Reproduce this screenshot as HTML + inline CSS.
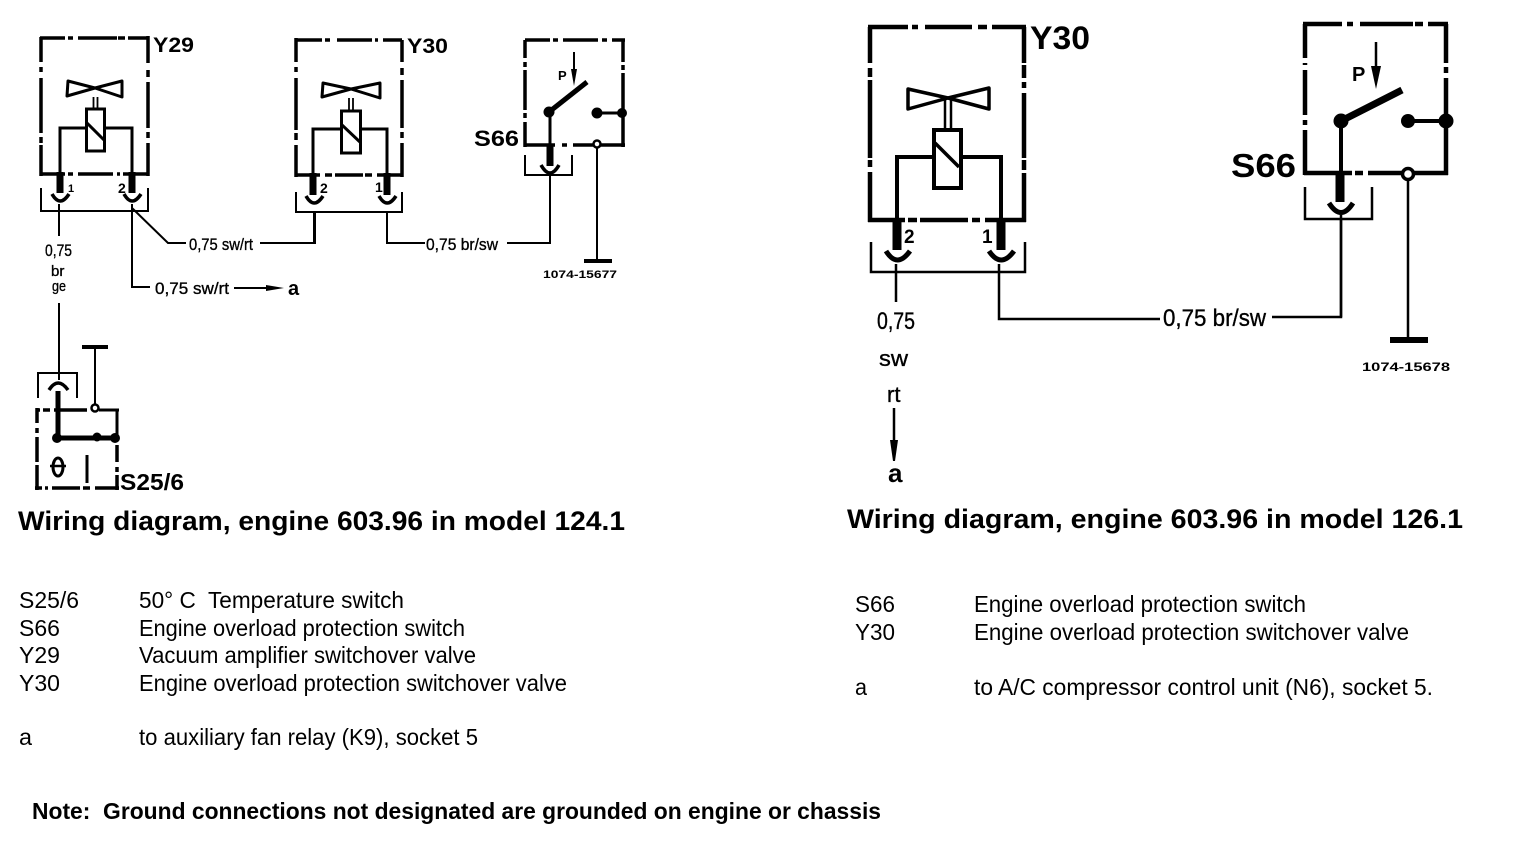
<!DOCTYPE html>
<html><head><meta charset="utf-8"><style>
html,body{margin:0;padding:0;background:#fff;width:1520px;height:848px;overflow:hidden}
svg{display:block}
text{font-family:"Liberation Sans",sans-serif;fill:#000;white-space:pre}
.b{font-weight:bold}
.m{stroke:#000;stroke-width:.35}
.f{fill:none;stroke:#000;stroke-linecap:butt;stroke-linejoin:miter}
</style></head><body>
<svg width="1520" height="848" viewBox="0 0 1520 848" xmlns="http://www.w3.org/2000/svg">
<!-- Y29 -->
<g class="f" stroke-width="3.5">
<path d="M40 38H65M68 38H73M78 38H117M118 38H125M128 38H148M148 36V63M148 70V77M148 82V128M148 132V138M148 143V176M40 174H65M68 174H73M78 174H113M117 174H120M123 174H148M41 37V62M41 67V72M41 78V133M41 137V143M41 145V176"/>
<path d="M60 174V128H87M105 128H132V174" stroke-width="3"/>
<rect x="86.5" y="109" width="18" height="42" stroke-width="3"/>
<path d="M87 123L104 140" stroke-width="3"/>
<path d="M95 88L68 81 67 96ZM95 88L122 81 122 97Z" stroke-width="3" stroke-linejoin="round"/>
<path d="M93.5 97V109M97.5 97V109" stroke-width="1.8"/>
<path d="M60 172V193M132 172V193" stroke-width="7"/>
<path d="M52 194Q60 208 69 194M124 194Q132 208 141 194" stroke-width="3.5"/>
<path d="M41 188V211H148V188" stroke-width="2"/>
<path d="M59 204V236M59 303V380M132 204V287H150M132 208L168 243H186M260 243H315V211" stroke-width="2"/>
</g>
<text class="b" x="153" y="52" font-size="21" textLength="41" lengthAdjust="spacingAndGlyphs">Y29</text>
<text class="m" x="45" y="256" font-size="17" textLength="27" lengthAdjust="spacingAndGlyphs">0,75</text>
<text class="m" x="51" y="276" font-size="15">br</text>
<text class="m" x="52" y="291" font-size="15" textLength="14" lengthAdjust="spacingAndGlyphs">ge</text>
<text class="b" x="68" y="192" font-size="11">1</text>
<text class="b" x="118" y="193" font-size="14">2</text>
<text class="m" x="189" y="250" font-size="17" textLength="64" lengthAdjust="spacingAndGlyphs">0,75 sw/rt</text>
<text class="m" x="155" y="294" font-size="17" textLength="74" lengthAdjust="spacingAndGlyphs">0,75 sw/rt</text>
<path class="f" stroke-width="2" d="M234 288H272"/>
<path d="M266 285L284 288 266 291Z"/>
<text class="b" x="288" y="295" font-size="20">a</text>
<!-- Y30 small -->
<g class="f" stroke-width="3.5">
<path d="M296 40H322M325 40H330M337 40H372M375 40H378M383 40H402M402 40V62M402 68V75M402 80V128M402 132V138M402 143V177M296 175H320M325 175H332M335 175H363M365 175H372M377 175H402M296 38V62M296 67V72M296 78V130M296 133V140M296 145V177"/>
<path d="M313 175V129H340M362 129H387V175" stroke-width="3"/>
<rect x="341.5" y="111" width="19" height="42" stroke-width="3"/>
<path d="M342 125L361 143" stroke-width="3"/>
<path d="M351 89L323 83 322 97ZM351 89L380 83 380 98Z" stroke-width="3" stroke-linejoin="round"/>
<path d="M349 98V111M353 98V111" stroke-width="1.8"/>
<path d="M313 173V195M387 173V195" stroke-width="7"/>
<path d="M306 196Q314 210 323 196M379 196Q387 210 396 196" stroke-width="3.5"/>
<path d="M296 192V212H402V192" stroke-width="2"/>
<path d="M314 212V243H260M387 212V243H425M507 243H550V175" stroke-width="2"/>
</g>
<text class="b" x="407" y="53" font-size="21" textLength="41" lengthAdjust="spacingAndGlyphs">Y30</text>
<text class="b" x="320" y="193" font-size="14">2</text>
<text class="b" x="375" y="192" font-size="14">1</text>
<text class="m" x="426" y="250" font-size="17" textLength="72" lengthAdjust="spacingAndGlyphs">0,75 br/sw</text>
<!-- S66 small -->
<g class="f" stroke-width="3.5">
<path d="M525 40H550M553 40H558M563 40H598M602 40H607M612 40H625M623 40V62M623 65V70M623 73V147M525 145H555M562 145H567M573 145H625M525 40V58M525 62V67M525 70V110M525 113V118M525 122V147"/>
<path d="M549 112L587 82" stroke-width="5"/>
<path d="M550 112V145" stroke-width="3"/>
<path d="M597 113H622" stroke-width="3"/>
<path d="M550 145V166" stroke-width="7"/>
<path d="M541 165Q550 181 559 165" stroke-width="3.5"/>
<path d="M525 155V175H572V155" stroke-width="2"/>
<path d="M597 148V262" stroke-width="2"/>
<path d="M584 261H612" stroke-width="4"/>
<path d="M574 52V80" stroke-width="2"/>
</g>
<path d="M571 69L577 69 574 86Z"/>
<circle cx="549" cy="112" r="5.5"/><circle cx="597" cy="113" r="5.5"/><circle cx="622" cy="113" r="5"/>
<circle cx="597" cy="144" r="3.5" fill="#fff" stroke="#000" stroke-width="2.5"/>
<text class="b" x="558" y="80" font-size="13">P</text>
<text class="b" x="474" y="146" font-size="22" textLength="45" lengthAdjust="spacingAndGlyphs">S66</text>
<text class="b" x="543" y="278" font-size="11" textLength="74" lengthAdjust="spacingAndGlyphs">1074-15677</text>
<!-- S25/6 -->
<g class="f" stroke-width="3.5">
<path d="M38 398V373H77V398" stroke-width="2"/>
<path d="M49 390Q58 376 68 390" stroke-width="3.5"/>
<path d="M58 391V438" stroke-width="5"/>
<path d="M37 410H40M43 410H50M54 410H87M37 408V423M37 428V433M37 437V462M37 465V490M35 488H42M45 488H48M52 488H80M83 488H90M95 488H119M117 445V462M117 467V472M117 475V490"/>
<path d="M99 410H119M117 410V438" stroke-width="3"/>
<path d="M57 438H115" stroke-width="5"/>
<path d="M95 404V348" stroke-width="2"/>
<path d="M82 347H108" stroke-width="4"/>
<path d="M87 455V483" stroke-width="3"/>
<ellipse cx="58" cy="467" rx="5" ry="9" stroke-width="3"/>
<path d="M50 466H66" stroke-width="2.5"/>
</g>
<circle cx="57" cy="438" r="5"/><circle cx="97" cy="437" r="4.5"/><circle cx="115" cy="438" r="5"/>
<circle cx="95" cy="408" r="3.5" fill="#fff" stroke="#000" stroke-width="2.5"/>
<text class="b" x="120" y="490" font-size="23" textLength="64" lengthAdjust="spacingAndGlyphs">S25/6</text>
<!-- Y30 large -->
<g class="f" stroke-width="4.5">
<path d="M868 27H908M912 27H918M925 27H972M978 27H987M992 27H1026M1024 27V63M1024 65V78M1024 82V88M1024 93V158M1024 160V170M1024 173V222M868 220H905M908 220H917M920 220H968M972 220H980M985 220H1026M870 27V63M870 68V77M870 80V158M870 160V167M870 172V222"/>
<path d="M897 220V157H934M961 157H1001V220" stroke-width="4"/>
<rect x="934" y="130" width="27" height="58" stroke-width="4"/>
<path d="M935 143L959 167" stroke-width="3.5"/>
<path d="M948 98L908 89 908 109ZM948 98L989 88 989 109Z" stroke-width="3.5" stroke-linejoin="round"/>
<path d="M945 98V130M951 98V130" stroke-width="2.5"/>
<path d="M897 220V250M1001 220V250" stroke-width="9"/>
<path d="M886 251Q897 269 910 251M989 251Q1001 269 1014 251" stroke-width="5"/>
<path d="M871 242V272H1025V242" stroke-width="2.5"/>
<path d="M896 264V302M999 264V319H1160M1272 317H1341V219" stroke-width="2.5"/>
</g>
<text class="b" x="1030" y="49" font-size="32" textLength="60" lengthAdjust="spacingAndGlyphs">Y30</text>
<text class="b" x="904" y="243" font-size="19">2</text>
<text class="b" x="982" y="243" font-size="19">1</text>
<text class="m" x="877" y="329" font-size="24" textLength="38" lengthAdjust="spacingAndGlyphs">0,75</text>
<text class="m" x="1163" y="326" font-size="24" textLength="103" lengthAdjust="spacingAndGlyphs">0,75 br/sw</text>
<text class="m" x="879" y="366" font-size="22" textLength="29" lengthAdjust="spacingAndGlyphs">sw</text>
<text class="m" x="887" y="402" font-size="22">rt</text>
<path class="f" stroke-width="2.5" d="M894 408V445"/>
<path d="M890 440L898 440 895 461 893 461Z"/>
<text class="b" x="888" y="482" font-size="26">a</text>
<!-- S66 large -->
<g class="f" stroke-width="4.5">
<path d="M1303 24H1342M1347 24H1353M1360 24H1413M1415 24H1423M1428 24H1448M1446 24V63M1446 67V73M1446 78V175M1304 173H1352M1355 173H1363M1368 173H1448M1305 24V58M1305 63V65M1305 70V115M1305 120V125M1305 130V175"/>
<path d="M1341 121L1402 90" stroke-width="7"/>
<path d="M1341 121V173" stroke-width="4"/>
<path d="M1408 121H1446" stroke-width="4"/>
<path d="M1340 173V202" stroke-width="9"/>
<path d="M1329 203Q1341 222 1353 203" stroke-width="5"/>
<path d="M1305 187V219H1372V187" stroke-width="2.5"/>
<path d="M1341 215V317M1408 180V338" stroke-width="2.5"/>
<path d="M1390 340H1428" stroke-width="6"/>
<path d="M1376 42V72" stroke-width="2.5"/>
</g>
<path d="M1371 66L1381 66 1376 89Z"/>
<circle cx="1341" cy="121" r="7.5"/><circle cx="1408" cy="121" r="7"/><circle cx="1446" cy="121" r="7.5"/>
<circle cx="1408" cy="174" r="5.5" fill="#fff" stroke="#000" stroke-width="3.5"/>
<text class="b" x="1352" y="81" font-size="20">P</text>
<text class="b" x="1231" y="177" font-size="33" textLength="65" lengthAdjust="spacingAndGlyphs">S66</text>
<text class="b" x="1362" y="371" font-size="12" textLength="88" lengthAdjust="spacingAndGlyphs">1074-15678</text>
<!-- Titles -->
<text class="b" x="18" y="530" font-size="26.5" textLength="607" lengthAdjust="spacingAndGlyphs">Wiring diagram, engine 603.96 in model 124.1</text>
<text class="b" x="847" y="528" font-size="26.5" textLength="616" lengthAdjust="spacingAndGlyphs">Wiring diagram, engine 603.96 in model 126.1</text>
<!-- Legend left -->
<g font-size="23">
<text x="19" y="608" textLength="60" lengthAdjust="spacingAndGlyphs">S25/6</text>
<text x="139" y="608" textLength="265" lengthAdjust="spacingAndGlyphs">50° C  Temperature switch</text>
<text x="19" y="636" textLength="41" lengthAdjust="spacingAndGlyphs">S66</text>
<text x="139" y="636" textLength="326" lengthAdjust="spacingAndGlyphs">Engine overload protection switch</text>
<text x="19" y="663" textLength="41" lengthAdjust="spacingAndGlyphs">Y29</text>
<text x="139" y="663" textLength="337" lengthAdjust="spacingAndGlyphs">Vacuum amplifier switchover valve</text>
<text x="19" y="691" textLength="41" lengthAdjust="spacingAndGlyphs">Y30</text>
<text x="139" y="691" textLength="428" lengthAdjust="spacingAndGlyphs">Engine overload protection switchover valve</text>
<text x="19" y="745" textLength="13" lengthAdjust="spacingAndGlyphs">a</text>
<text x="139" y="745" textLength="339" lengthAdjust="spacingAndGlyphs">to auxiliary fan relay (K9), socket 5</text>
<!-- Legend right -->
<text x="855" y="612" textLength="40" lengthAdjust="spacingAndGlyphs">S66</text>
<text x="974" y="612" textLength="332" lengthAdjust="spacingAndGlyphs">Engine overload protection switch</text>
<text x="855" y="640" textLength="40" lengthAdjust="spacingAndGlyphs">Y30</text>
<text x="974" y="640" textLength="435" lengthAdjust="spacingAndGlyphs">Engine overload protection switchover valve</text>
<text x="855" y="695" textLength="12" lengthAdjust="spacingAndGlyphs">a</text>
<text x="974" y="695" textLength="459" lengthAdjust="spacingAndGlyphs">to A/C compressor control unit (N6), socket 5.</text>
</g>
<text class="b" x="32" y="819" font-size="23.5" textLength="849" lengthAdjust="spacingAndGlyphs">Note:  Ground connections not designated are grounded on engine or chassis</text>
</svg>
</body></html>
